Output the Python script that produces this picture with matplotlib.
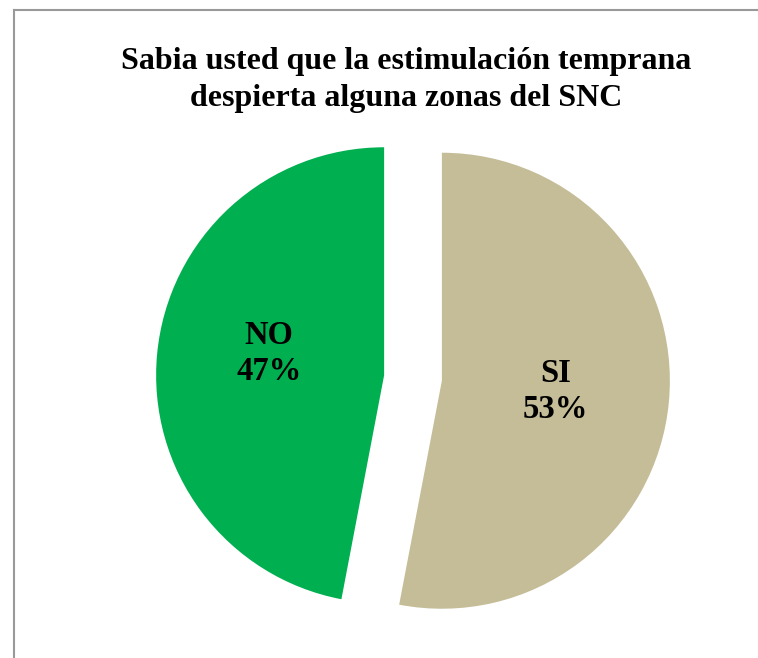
import matplotlib
matplotlib.use("Agg")
import matplotlib.pyplot as plt
from matplotlib.lines import Line2D

# data
categories = ["SI", "NO"]
percentages = [53, 47]
colors = ["#C4BD97", "#00B050"]
title = "Sabia usted que la estimulación temprana\ndespierta alguna zonas del SNC"

W, H = 758, 658
fig = plt.figure(figsize=(W / 100, H / 100), dpi=100)
ax = fig.add_axes([0, 0, 1, 1])

labels = [f"{c}\n{p}%" for c, p in zip(categories, percentages)]
# explode is in data units here (axes spans the figure in pixels)
wedges, texts = ax.pie(
    percentages,
    labels=labels,
    colors=colors,
    startangle=90,
    counterclock=False,
    explode=[29, 29],
    center=(413, H - 378),
    radius=228,
    labeldistance=0.5,
    frame=True,
    textprops=dict(family="Liberation Serif", weight="bold", fontsize=23.5,
                   ha="center", va="center", linespacing=1.2),
)
# the NO label sits a little higher in the original
x, y = texts[1].get_position()
texts[1].set_position((x - 2, y + 11))

ax.set_xlim(0, W)
ax.set_ylim(0, H)
ax.set_aspect("equal")
ax.axis("off")

fig.text(0.536, 1 - 80 / H, title, ha="center", va="center",
         family="Liberation Serif", weight="bold", fontsize=23, linespacing=1.38)

# chart border (left and top edges visible)
fig.add_artist(Line2D([13.5 / W, 13.5 / W], [0, 1 - 9.5 / H], color="#999999", lw=1.5,
                      transform=fig.transFigure))
fig.add_artist(Line2D([13.5 / W, 1], [1 - 9.5 / H, 1 - 9.5 / H], color="#999999", lw=1.5,
                      transform=fig.transFigure))

fig.savefig("out.png", dpi=100)
